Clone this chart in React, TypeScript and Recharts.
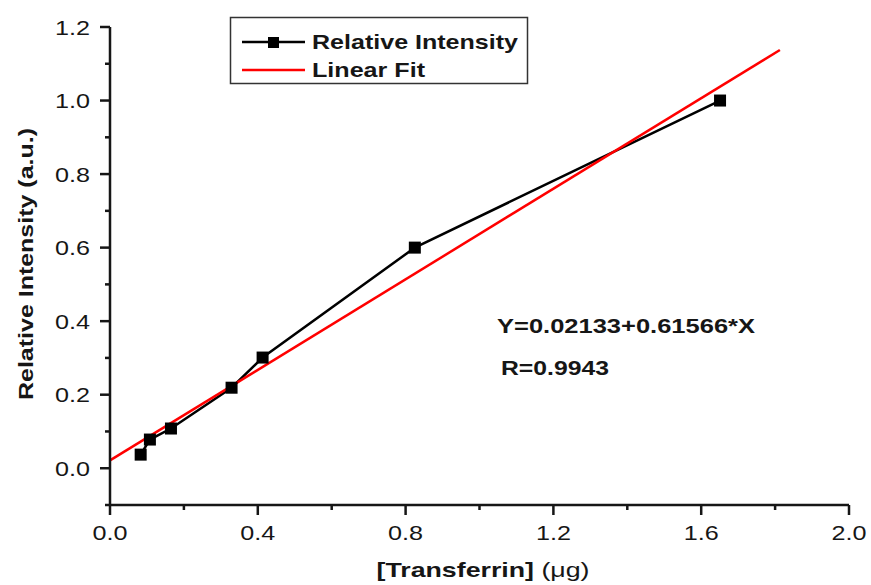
import React from 'react';
import { ComposedChart, Line, XAxis, YAxis } from 'recharts';

const transferrin = [0.083, 0.108, 0.165, 0.329, 0.413, 0.825, 1.651];
const intensity = [0.037, 0.078, 0.108, 0.219, 0.301, 0.6, 1.0];

// linear fit endpoints
const fitX = [0, 1.813];
const fitY = [0.0213, 1.1375];

const xTicks = [0, 0.2, 0.4, 0.6, 0.8, 1.0, 1.2, 1.4, 1.6, 1.8, 2.0];
const yTicks = [-0.1, 0, 0.1, 0.2, 0.3, 0.4, 0.5, 0.6, 0.7, 0.8, 0.9, 1.0, 1.1, 1.2];

const seriesData = transferrin.map((x, i) => ({ x, y: intensity[i] }));
const fitData = fitX.map((x, i) => ({ x, y: fitY[i] }));

const FONT = "'Liberation Sans', Arial, Helvetica, sans-serif";
const INK = '#161616';

const isMultiple = (v: number, step: number) => Math.abs(v / step - Math.round(v / step)) < 1e-6;

const YTick = (props: any) => {
  const { x, y, payload } = props;
  const v = payload.value;
  const major = isMultiple(v, 0.2);
  return (
    <g>
      <line x1={x} x2={x - (major ? 10 : 5)} y1={y} y2={y} stroke={INK} strokeWidth={2.5} />
      {major && (
        <text
          x={x - 20}
          y={y}
          dy="0.36em"
          textAnchor="end"
          fontFamily={FONT}
          fontSize={21}
          fill={INK}
          textLength={35}
          lengthAdjust="spacingAndGlyphs"
        >
          {v.toFixed(1)}
        </text>
      )}
    </g>
  );
};

const XTick = (props: any) => {
  const { x, y, payload } = props;
  const v = payload.value;
  const major = isMultiple(v, 0.4);
  return (
    <g>
      <line x1={x} x2={x} y1={y} y2={y + (major ? 10 : 5)} stroke={INK} strokeWidth={2.5} />
      {major && (
        <text
          x={x}
          y={y + 35}
          textAnchor="middle"
          fontFamily={FONT}
          fontSize={21}
          fill={INK}
          textLength={35}
          lengthAdjust="spacingAndGlyphs"
        >
          {v.toFixed(1)}
        </text>
      )}
    </g>
  );
};

const SquareDot = (p: any) => (
  <rect key={`sq-${p.index}`} x={p.cx - 6} y={p.cy - 6} width={12} height={12} fill="#000" />
);

const boldText = { fontFamily: FONT, fontSize: 21, fontWeight: 700, fill: INK } as const;

export default function App() {
  return (
    <div style={{ position: 'absolute', left: 0, top: 0, width: 871, height: 585, background: '#fff' }}>
      <ComposedChart width={871} height={585} margin={{ top: 27, right: 22, bottom: 40, left: 50 }}>
        <XAxis
          type="number"
          dataKey="x"
          domain={[0, 2]}
          ticks={xTicks}
          interval={0}
          height={40}
          tickSize={0}
          tickMargin={0}
          tickLine={false}
          axisLine={{ stroke: INK, strokeWidth: 2.5 }}
          tick={<XTick />}
          label={() => (
            <text x={483} y={577} textAnchor="middle" {...boldText} textLength={213} lengthAdjust="spacingAndGlyphs">
              [Transferrin] <tspan fontWeight={400}>(μg)</tspan>
            </text>
          )}
        />
        <YAxis
          type="number"
          domain={[-0.1, 1.2]}
          ticks={yTicks}
          interval={0}
          width={60}
          tickSize={0}
          tickMargin={0}
          tickLine={false}
          axisLine={{ stroke: INK, strokeWidth: 2.5 }}
          tick={<YTick />}
          label={() => (
            <text
              x={33}
              y={264}
              textAnchor="middle"
              transform="rotate(-90, 33, 264)"
              {...boldText}
              textLength={272}
              lengthAdjust="spacingAndGlyphs"
            >
              Relative Intensity (a.u.)
            </text>
          )}
        />
        <Line
          data={seriesData}
          dataKey="y"
          stroke="#000"
          strokeWidth={2.5}
          dot={SquareDot}
          activeDot={false}
          isAnimationActive={false}
        />
        <Line
          data={fitData}
          dataKey="y"
          stroke="#ff0000"
          strokeWidth={2.5}
          dot={false}
          activeDot={false}
          isAnimationActive={false}
        />
      </ComposedChart>
      <svg width={871} height={585} style={{ position: 'absolute', left: 0, top: 0, pointerEvents: 'none' }}>
        {/* legend */}
        <rect x={230.5} y={17.5} width={297} height={66} fill="none" stroke="#333" strokeWidth={1.5} />
        <line x1={242} x2={305} y1={42} y2={42} stroke="#000" strokeWidth={2.5} />
        <rect x={268} y={37} width={11} height={11} fill="#000" />
        <text x={312} y={49} {...boldText} textLength={206} lengthAdjust="spacingAndGlyphs">
          Relative Intensity
        </text>
        <line x1={242} x2={305} y1={70} y2={70} stroke="#ff0000" strokeWidth={2.5} />
        <text x={312} y={77} {...boldText} textLength={113} lengthAdjust="spacingAndGlyphs">
          Linear Fit
        </text>
        {/* fit annotation */}
        <text x={497} y={333} {...boldText} textLength={258} lengthAdjust="spacingAndGlyphs">
          Y=0.02133+0.61566*X
        </text>
        <text x={501} y={375} {...boldText} textLength={108} lengthAdjust="spacingAndGlyphs">
          R=0.9943
        </text>
      </svg>
    </div>
  );
}
